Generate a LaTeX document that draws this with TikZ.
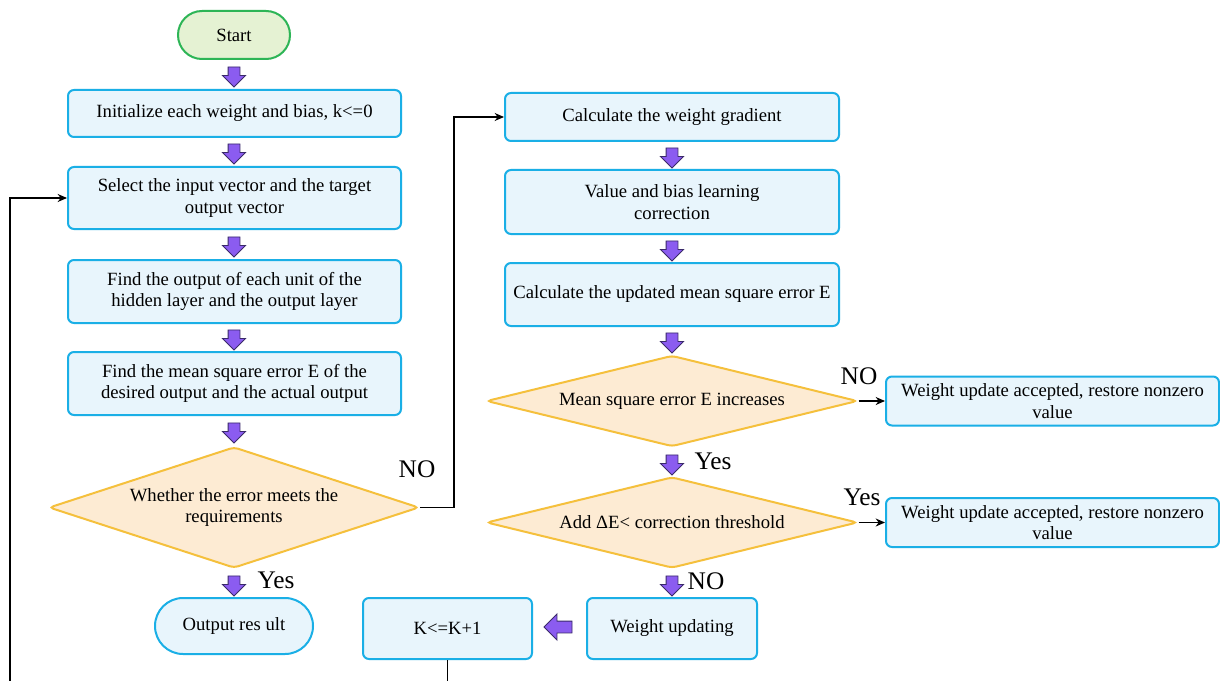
\documentclass[tikz,border=0pt]{standalone}
\usepackage{fontspec}
\setmainfont{Liberation Serif}
\usetikzlibrary{shapes.geometric,shapes.arrows,arrows.meta}
\def\px{0.75pt}
\definecolor{boxfill}{HTML}{E8F5FC}
\definecolor{boxline}{HTML}{1AAFE6}
\definecolor{dfill}{HTML}{FDEBD3}
\definecolor{dline}{HTML}{F5C03C}
\definecolor{sfill}{HTML}{E5F2D3}
\definecolor{sline}{HTML}{2DB556}
\definecolor{afill}{HTML}{8B5CF0}
\definecolor{aline}{HTML}{3A2A6A}
\begin{document}
\begin{tikzpicture}[x=\px,y=-\px, font=\fontsize{14}{16}\selectfont,
 procbox/.style={draw=boxline, fill=boxfill, line width=1.5pt, rounded corners=4.5pt, align=center, inner sep=0pt},
 termbox/.style={draw=boxline, fill=boxfill, line width=1.5pt, align=center, inner sep=0pt},
 decbox/.style={diamond, draw=dline, fill=dfill, line width=1.5pt, align=center, inner sep=0pt, rounded corners=3pt},
 fatarr/.style={single arrow, draw=aline, fill=afill, line width=0.7pt, inner sep=0pt, inner ysep=5.5*\px, minimum height=20*\px, single arrow head extend=5.5*\px},
 conn/.style={draw=black, line width=1.1pt, -{Stealth[length=7pt,width=6pt]}},
 lbl/.style={font=\fontsize{19}{21}\selectfont, inner sep=0pt}]
\useasboundingbox (0,0) rectangle (1220,681);
\fill[white] (0,0) rectangle (1220,681);
% left column
\node[termbox, draw=sline, fill=sfill, rounded corners=24*\px, minimum width=112*\px, minimum height=48*\px] (start) at (234,35) {Start};
\node[procbox, minimum width=333*\px, minimum height=47*\px] (init) at (234.5,113.5) {Initialize each weight and bias, k<=0};
\node[procbox, minimum width=333*\px, minimum height=62*\px] (sel) at (234.5,198) {Select the input vector and the target\\output vector};
\node[procbox, minimum width=333*\px, minimum height=63*\px] (fout) at (234.5,291.5) {Find the output of each unit of the\\hidden layer and the output layer};
\node[procbox, minimum width=333*\px, minimum height=63*\px] (fmse) at (234.5,383.5) {Find the mean square error E of the\\desired output and the actual output};
\node[decbox, aspect=3.06, minimum width=370*\px, minimum height=121*\px] (d1) at (234,507.5) {Whether the error meets the\\requirements};
\node[termbox, rounded corners=28*\px, minimum width=158*\px, minimum height=56*\px] (outr) at (234,626) {Output res ult};
% right column
\node[procbox, minimum width=334*\px, minimum height=48*\px] (grad) at (672,117) {Calculate the weight gradient};
\node[procbox, minimum width=334*\px, minimum height=64*\px] (vb) at (672,202) {Value and bias learning\\correction};
\node[procbox, minimum width=334*\px, minimum height=63*\px] (cmse) at (672,294.5) {Calculate the updated mean square error E};
\node[decbox, aspect=4.08, minimum width=371*\px, minimum height=91*\px] (d2) at (672,401) {Mean square error E increases};
\node[decbox, aspect=4.08, minimum width=371*\px, minimum height=91*\px] (d3) at (672,522.5) {Add ΔE< correction threshold};
\node[procbox, minimum width=170*\px, minimum height=61*\px] (wu) at (672,628.5) {Weight updating};
\node[procbox, minimum width=169*\px, minimum height=61*\px] (kb) at (447.5,628.5) {K<=K+1};
\node[procbox, minimum width=333*\px, minimum height=49*\px] (r1) at (1052.5,401) {Weight update accepted, restore nonzero\\value};
\node[procbox, minimum width=333*\px, minimum height=49*\px] (r2) at (1052.5,522.5) {Weight update accepted, restore nonzero\\value};
% fat arrows
\node[fatarr, rotate=-90] (fa1) at (234,74) {};
\node[fatarr, rotate=-90] (fa2) at (234,151) {};
\node[fatarr, rotate=-90] (fa3) at (234,244) {};
\node[fatarr, rotate=-90] (fa4) at (234,337) {};
\node[fatarr, rotate=-90] (fa5) at (234,430) {};
\node[fatarr, rotate=-90] (fa6) at (234,583) {};
\node[fatarr, rotate=-90] (fb1) at (672,155) {};
\node[fatarr, rotate=-90] (fb2) at (672,248) {};
\node[fatarr, rotate=-90] (fb3) at (672,340) {};
\node[fatarr, rotate=-90] (fb4) at (672,462) {};
\node[fatarr, rotate=-90] (fb5) at (672,583) {};
\node[fatarr, rotate=180, minimum height=28*\px, single arrow head extend=7*\px] (fc1) at (561,627) {};
% labels
\node[lbl] (l1) at (417,469) {NO};
\node[lbl] (l2) at (276,580) {Yes};
\node[lbl] (l3) at (713,461) {Yes};
\node[lbl] (l4) at (706,581) {NO};
\node[lbl] (l5) at (859,376) {NO};
\node[lbl] (l6) at (862,497) {Yes};
% connectors
\draw[conn] (d1.east) -- ++(34,0) |- (grad.west);
\draw[conn] (d2.east) -- (r1.west);
\draw[conn] (d3.east) -- (r2.west);
\coordinate (lp) at (10,760);
\draw[conn] (kb.south) |- (lp) |- (sel.west);
\end{tikzpicture}
\end{document}
